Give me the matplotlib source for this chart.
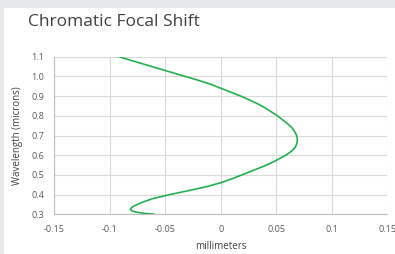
from matplotlib import pyplot as plt
from matplotlib.patches import Rectangle

# focal shift (mm) at each wavelength (microns)
wavelength = [0.300, 0.305, 0.310, 0.315, 0.325, 0.335, 0.345, 0.36, 0.38, 0.40,
              0.42, 0.44, 0.46, 0.48, 0.50, 0.52, 0.54, 0.56, 0.58, 0.60, 0.62,
              0.64, 0.66, 0.68, 0.70, 0.72, 0.74, 0.76, 0.78, 0.80, 0.82, 0.84,
              0.86, 0.88, 0.90, 0.92, 0.94, 0.96, 0.98, 1.00, 1.02, 1.04, 1.06,
              1.08, 1.10]
shift = [-0.060, -0.069, -0.075, -0.079, -0.0814, -0.080, -0.077, -0.071, -0.061,
         -0.046, -0.029, -0.013, 0.000, 0.010, 0.019, 0.028, 0.037, 0.045, 0.052,
         0.0585, 0.0635, 0.067, 0.0685, 0.0689, 0.0683, 0.0665, 0.064, 0.060, 0.0555,
         0.051, 0.0455, 0.040, 0.0335, 0.026, 0.018, 0.009, 0.000, -0.009, -0.020,
         -0.032, -0.044, -0.056, -0.068, -0.080, -0.0915]
xticks = [-0.15, -0.1, -0.05, 0, 0.05, 0.1, 0.15]
xticklabels = ['-0.15', '-0.1', '-0.05', '0', '0.05', '0.1', '0.15']
yticks = [0.3, 0.4, 0.5, 0.6, 0.7, 0.8, 0.9, 1.0, 1.1]

plt.rcParams['font.family'] = ['Open Sans', 'DejaVu Sans']

fig = plt.figure(figsize=(3.95, 2.54), dpi=100, facecolor='#e7e8e9')
# white card behind everything
fig.patches.append(Rectangle((4/395, 0), 1, 246/254, transform=fig.transFigure,
                             facecolor='white', edgecolor='none', zorder=-5))

ax = fig.add_axes([54/395, 1-214.3/254, 333.5/395, 157.6/254])
ax.set_zorder(2)
ax.plot(shift, wavelength, color='#22b14c', linewidth=1.2, zorder=3,
        solid_joinstyle='round')

ax.set_xlim(-0.15, 0.15)
ax.set_ylim(0.3, 1.1)
ax.set_xticks(xticks)
ax.set_xticklabels(xticklabels)
ax.set_yticks(yticks)
ax.set_yticklabels(['%.1f' % v for v in yticks])
ax.tick_params(length=0, labelsize=6.5, colors='#595959')
ax.tick_params(axis='x', pad=8)
ax.tick_params(axis='y', pad=7)
ax.grid(True, color='#d9d9d9', linewidth=0.8)
ax.set_axisbelow(True)
for side in ['top', 'right']:
	ax.spines[side].set_visible(False)
for side in ['left', 'bottom']:
	ax.spines[side].set_color('#bfbfbf')
	ax.spines[side].set_linewidth(0.8)

ax.set_xlabel('millimeters', fontsize=7, color='#404040', labelpad=5)
ax.set_ylabel('Wavelength (microns)', fontsize=7, color='#404040', labelpad=6)

fig.text(28/395, 1-22/254, 'Chromatic Focal Shift', fontsize=12.5, color='#404040',
         va='center', ha='left')

fig.savefig('out.png', dpi=100, facecolor=fig.get_facecolor())
